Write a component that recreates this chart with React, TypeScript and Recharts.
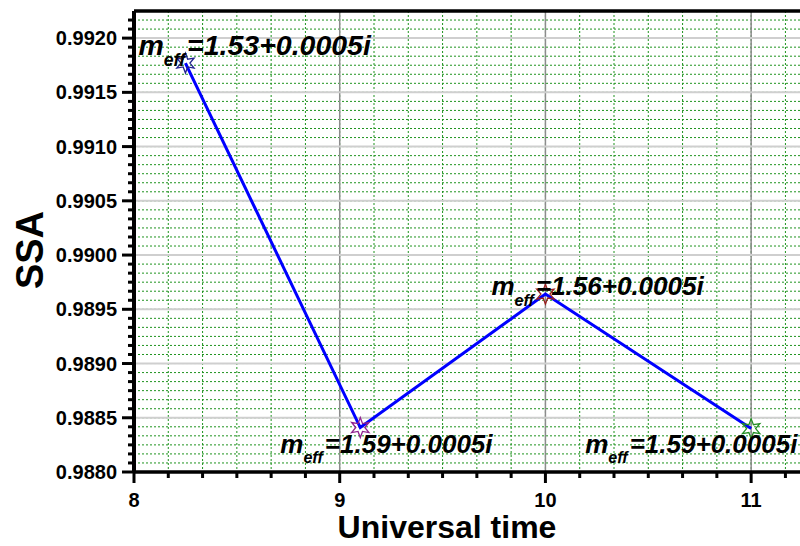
import { LineChart, Line, XAxis, YAxis, CartesianGrid, ReferenceLine, LabelList } from 'recharts';

// measured points
const times = [8.25, 9.1, 10, 11];
const ssa = [0.99177, 0.98841, 0.98964, 0.9884];
const mEff = ['1.53+0.0005i', '1.59+0.0005i', '1.56+0.0005i', '1.59+0.0005i'];
const starColors = ['#23238f', '#8f238f', '#9a2020', '#238f23'];

// axes
const xMajor = [8, 9, 10, 11];
const yMajor = [0.988, 0.9885, 0.989, 0.9895, 0.99, 0.9905, 0.991, 0.9915, 0.992];
const X_DOMAIN = [8, 11.5];
const Y_DOMAIN = [0.988, 0.99225];

const FONT = '"Liberation Sans", Arial, sans-serif';

// 6 minor steps between every pair of majors, a few more after the last one
const minorTicks = (majors: number[], n: number, tail: number) => {
  const out: number[] = [];
  majors.forEach((m, i) => {
    const last = i === majors.length - 1;
    const step = last ? majors[1] - majors[0] : majors[i + 1] - m;
    const count = last ? tail : n;
    for (let k = 0; k < count; k++) out.push(m + (k * step) / n);
  });
  return out;
};
const isMajor = (v: number, majors: number[]) => majors.some((m) => Math.abs(m - v) < 1e-9);

const xTicks = minorTicks(xMajor, 6, 3);
const yTicks = minorTicks(yMajor, 6, 3);

const data = times.map((t, i) => ({ t, ssa: ssa[i], label: mEff[i] }));

// label offset from its point (px) and font size
const labelOffsets = [[-47, -8], [-80, 25], [-54, 1], [-166, 24]];
const labelSizes = [28.5, 26, 26, 26];

const XTick = ({ x, y, payload }: any) => {
  const major = isMajor(payload.value, xMajor);
  return (
    <g>
      <line x1={x} x2={x} y1={y} y2={y + (major ? 11 : 6)} stroke="#000" strokeWidth={3} />
      {major && (
        <text x={x} y={y + 35} textAnchor="middle" fontSize={20} fontWeight="bold" fontFamily={FONT} fill="#000">
          {Math.round(payload.value)}
        </text>
      )}
    </g>
  );
};

const YTick = ({ x, y, payload }: any) => {
  const major = isMajor(payload.value, yMajor);
  return (
    <g>
      <line x1={x} x2={x - (major ? 12 : 6)} y1={y} y2={y} stroke="#000" strokeWidth={3} />
      {major && (
        <text x={x - 17} y={y + 7} textAnchor="end" fontSize={20} fontWeight="bold" fontFamily={FONT} fill="#000">
          {payload.value.toFixed(4)}
        </text>
      )}
    </g>
  );
};

const starPath = (cx: number, cy: number, ro: number, ri: number) => {
  let d = '';
  for (let k = 0; k < 12; k++) {
    const a = ((-90 + k * 30) * Math.PI) / 180;
    const r = k % 2 === 0 ? ro : ri;
    d += (k === 0 ? 'M' : 'L') + (cx + r * Math.cos(a)).toFixed(2) + ',' + (cy + r * Math.sin(a)).toFixed(2);
  }
  return d + 'Z';
};

const StarDot = ({ cx, cy, index }: any) => (
  <path key={`star-${index}`} d={starPath(cx, cy, 10, 4.5)} fill="none" stroke={starColors[index]} strokeWidth={1.3} />
);

const MeffLabel = ({ x, y, index, value }: any) => {
  const [dx, dy] = labelOffsets[index];
  const fs = labelSizes[index];
  return (
    <text x={x + dx} y={y + dy} fontFamily={FONT} fontWeight="bold" fontStyle="italic" fontSize={fs} fill="#000">
      m
      <tspan dy={fs * 0.4} fontSize={fs * 0.62}>eff</tspan>
      <tspan dy={-fs * 0.4} dx={2} fontSize={fs}>={value}</tspan>
    </text>
  );
};

const XTitle = ({ viewBox }: any) => (
  <text x={viewBox.x + 313} y={viewBox.y + 66} textAnchor="middle" fontSize={32} fontWeight="bold" fontFamily={FONT} fill="#000">
    Universal time
  </text>
);

const YTitle = ({ viewBox }: any) => {
  const x = viewBox.x + 43;
  const y = 250;
  return (
    <text x={x} y={y} transform={`rotate(-90 ${x} ${y})`} textAnchor="middle" fontSize={38} fontWeight="bold" fontFamily={FONT} fill="#000">
      SSA
    </text>
  );
};

export default function App() {
  return (
    <div style={{ position: 'fixed', left: 0, top: 0, width: 800, height: 546, overflow: 'hidden', background: '#fff', fontFamily: FONT }}>
      <LineChart width={900} height={546} data={data} margin={{ top: 11, right: 46, bottom: 0, left: 0 }}>
        <CartesianGrid stroke="#1f931f" strokeDasharray="2 2" strokeWidth={1} />
        {xMajor.slice(1).map((v) => (
          <ReferenceLine key={`gx${v}`} x={v} stroke="#8c8c8c" strokeWidth={1.5} />
        ))}
        {yMajor.slice(1).map((v) => (
          <ReferenceLine key={`gy${v}`} y={v} stroke="#cfcfcf" strokeWidth={2} />
        ))}
        <ReferenceLine y={Y_DOMAIN[1]} stroke="#000" strokeWidth={3.5} />
        <XAxis
          dataKey="t"
          type="number"
          domain={X_DOMAIN}
          ticks={xTicks}
          interval={0}
          tickSize={0}
          tickMargin={0}
          tickLine={false}
          tick={<XTick />}
          height={74}
          axisLine={{ stroke: '#000', strokeWidth: 3.5 }}
          label={<XTitle />}
        />
        <YAxis
          type="number"
          domain={Y_DOMAIN}
          ticks={yTicks}
          interval={0}
          tickSize={0}
          tickMargin={0}
          tickLine={false}
          tick={<YTick />}
          width={134}
          axisLine={{ stroke: '#000', strokeWidth: 4 }}
          label={<YTitle />}
        />
        <Line
          dataKey="ssa"
          stroke="#0000ff"
          strokeWidth={3}
          dot={<StarDot />}
          activeDot={false}
          isAnimationActive={false}
        >
          <LabelList dataKey="label" content={<MeffLabel />} />
        </Line>
      </LineChart>
    </div>
  );
}
